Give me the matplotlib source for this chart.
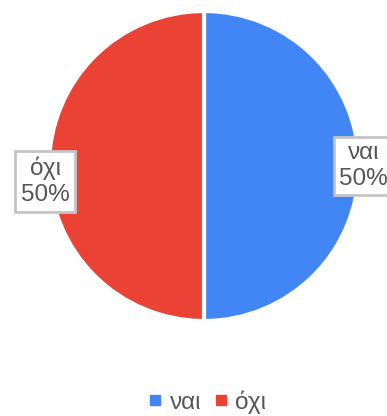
import matplotlib
matplotlib.use("Agg")
from matplotlib import pyplot as plt
from matplotlib.lines import Line2D

labels = ["ναι", "όχι"]
values = [50, 50]
colors = ["#4285F4", "#EA4335"]

plt.rcParams['font.family'] = ['Liberation Sans', 'DejaVu Sans']

W, H = 387, 416
fig = plt.figure(figsize=(W / 100, H / 100), dpi=100)

# pie centred at (204, 166) px with radius 155 px
cx, cy, r = 204, 166, 155
ax = fig.add_axes([(cx - r) / W, (H - cy - r) / H, 2 * r / W, 2 * r / H])
wedges, _ = ax.pie(values, colors=colors, startangle=90, counterclock=False,
                   wedgeprops=dict(edgecolor="white", linewidth=3))
ax.set_xlim(-1, 1)
ax.set_ylim(-1, 1)
ax.set_aspect("equal")
ax.axis("off")

total = sum(values)
label_pos = [(1.03, 0.0), (-1.025, -0.1)]
for lab, v, (x, y) in zip(labels, values, label_pos):
    ax.text(x, y, f"{lab}\n{v / total:.0%}", ha="center", va="center",
            fontsize=17.5, color="#555555", linespacing=1.25, clip_on=False,
            bbox=dict(boxstyle="square,pad=0.22", fc="white", ec="#c4c4c4", lw=2))

handles = [Line2D([], [], marker="s", linestyle="", color=c, markersize=6.5) for c in colors]
fig.legend(handles, labels, loc="center", bbox_to_anchor=(206 / W, 1 - 402 / H),
           ncol=2, frameon=False, fontsize=17.5, handletextpad=0.2,
           columnspacing=0.4, handlelength=0.8, labelcolor="#555555")

fig.savefig("out.png", dpi=100)
